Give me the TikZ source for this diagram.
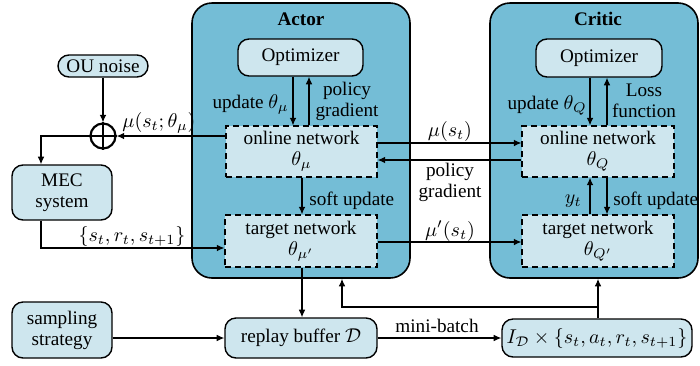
\documentclass[tikz,border=0pt]{standalone}
\usepackage[no-math]{fontspec}
\setmainfont{Liberation Serif}
\usetikzlibrary{arrows.meta,calc}
\definecolor{panelblue}{RGB}{116,189,214}
\definecolor{paleblue}{RGB}{206,230,238}
\begin{document}
\begin{tikzpicture}[x=0.5pt,y=-0.5pt,
  font=\fontsize{9.6}{10.5}\selectfont,
  >={Latex[length=3.8pt,width=3.4pt]},
  panel/.style={draw, line width=0.8pt, fill=panelblue, rounded corners=10pt, inner sep=0pt},
  optbox/.style={draw, line width=0.7pt, fill=paleblue, rounded corners=5.5pt, inner sep=1pt, align=center},
  netbox/.style={draw, line width=0.6pt, dash pattern=on 3pt off 2pt, fill=paleblue, inner sep=1pt, align=center},
  flow/.style={line width=0.6pt},
  lbl/.style={inner sep=1pt, align=center}]
\useasboundingbox (0,0) rectangle (700,365);

% actor and critic panels
\node[panel, minimum width=109pt, minimum height=137.5pt] (actor) at (301,140.5) {};
\node[panel, minimum width=104pt, minimum height=137.5pt] (critic) at (594,140.5) {};
\node[font=\fontsize{9.6}{10.5}\selectfont\bfseries] (atitle) at (301,19) {Actor};
\node[font=\fontsize{9.6}{10.5}\selectfont\bfseries] (ctitle) at (598,19) {Critic};

% actor internals
\node[optbox, minimum width=62.5pt, minimum height=18.5pt] (aopt) at (300.5,57.5) {Optimizer};
\node[netbox, minimum width=75.5pt, minimum height=25.5pt] (aon) at (301.5,151.5) {online network\\$\theta_\mu$};
\node[netbox, minimum width=76pt, minimum height=26pt] (atg) at (301,241) {target network\\$\theta_{\mu'}$};

% critic internals
\node[optbox, minimum width=63pt, minimum height=19pt] (copt) at (599,58) {Optimizer};
\node[netbox, minimum width=76pt, minimum height=25.5pt] (con) at (598,151.5) {online network\\$\theta_Q$};
\node[netbox, minimum width=76pt, minimum height=26pt] (ctg) at (598,241) {target network\\$\theta_{Q'}$};

% environment side
\node[optbox, minimum width=45pt, minimum height=11pt, rounded corners=5.5pt] (ou) at (103,66) {OU noise};
\node[circle, draw, line width=1.1pt, minimum size=12.5pt, inner sep=0pt] (plus) at (103,136) {};
\draw[line width=1.1pt] (plus.north) -- (plus.south) (plus.west) -- (plus.east);
\node[optbox, minimum width=50pt, minimum height=27.5pt] (mec) at (62,192.5) {MEC\\system};

% bottom row
\node[optbox, minimum width=50pt, minimum height=28pt] (samp) at (62,330) {sampling\\strategy};
\node[optbox, minimum width=76pt, minimum height=20pt] (replay) at (301,338) {replay buffer $\mathcal{D}$};
\node[optbox, minimum width=95pt, minimum height=19pt] (batch) at (597,338) {$I_{\mathcal{D}}\times\{s_t,a_t,r_t,s_{t+1}\}$};

% helper points
\coordinate (tapL) at (41,136);
\coordinate (sIn) at (41,248);
\coordinate (fbR) at (598,307);
\coordinate (fbL) at (342,307);

% actor optimizer loop
\draw[flow,->] (aopt.south -| 293,0) -- (aon.north -| 293,0);
\draw[flow,->] (aon.north -| 309,0) -- (aopt.south -| 309,0);
\node[lbl, anchor=east] (aupd) at (291,104) {update $\theta_\mu$};
\node[lbl] (apg) at (347,101) {policy\\gradient};
\draw[flow,->] (aon.south -| 302,0) -- (atg.north -| 302,0);
\node[lbl, anchor=west] (asoft) at (307,201) {soft update};

% critic optimizer loop
\draw[flow,->] (copt.south -| 590,0) -- (con.north -| 590,0);
\draw[flow,->] (con.north -| 607,0) -- (copt.south -| 607,0);
\node[lbl, anchor=east] (cupd) at (589,105) {update $\theta_Q$};
\node[lbl] (closs) at (644,101) {Loss\\function};
\draw[flow,->] (ctg.north -| 590,0) -- (con.south -| 590,0);
\draw[flow,->] (con.south -| 607,0) -- (ctg.north -| 607,0);
\node[lbl, anchor=east] (cyt) at (584,201) {$y_t$};
\node[lbl, anchor=west] (csoft) at (611,201) {soft update};

% actor <-> critic
\draw[flow,->] (aon.east |- 0,143) -- (con.west |- 0,143);
\node[lbl] (mus) at (450,131) {$\mu(s_t)$};
\draw[flow,->] (con.west |- 0,160) -- (aon.east |- 0,160);
\node[lbl] (pg) at (450,182) {policy\\gradient};
\draw[flow,->] (atg.east |- 0,242) -- (ctg.west |- 0,242);
\node[lbl] (mups) at (450,231) {$\mu'(s_t)$};

% exploration path
\draw[flow,->] (ou.south) -- (plus.north);
\draw[flow,->] (aon.west |- tapL) -- (plus.east);
\node[lbl] (act) at (159,123) {$\mu(s_t;\theta_\mu)$};
\draw[flow,->] (plus.west) -- (tapL) -- (tapL |- mec.north);
\draw[flow,->] (mec.south -| sIn) -- (sIn) -- (sIn -| atg.west);
\node[lbl] (trans) at (132,236) {$\{s_t,r_t,s_{t+1}\}$};

% replay and sampling
\draw[flow,->] (atg.south -| 302,0) -- (replay.north -| 302,0);
\draw[flow,->] (samp.east |- replay) -- (replay.west);
\draw[flow,->] (replay.east) -- (batch.west);
\node[lbl] (mb) at (437,326) {mini-batch};
\draw[flow,->] (batch.north -| fbR) -- (critic.south -| fbR);
\draw[flow,->] (fbR) -- (fbL) -- (actor.south -| fbL);
\end{tikzpicture}
\end{document}
